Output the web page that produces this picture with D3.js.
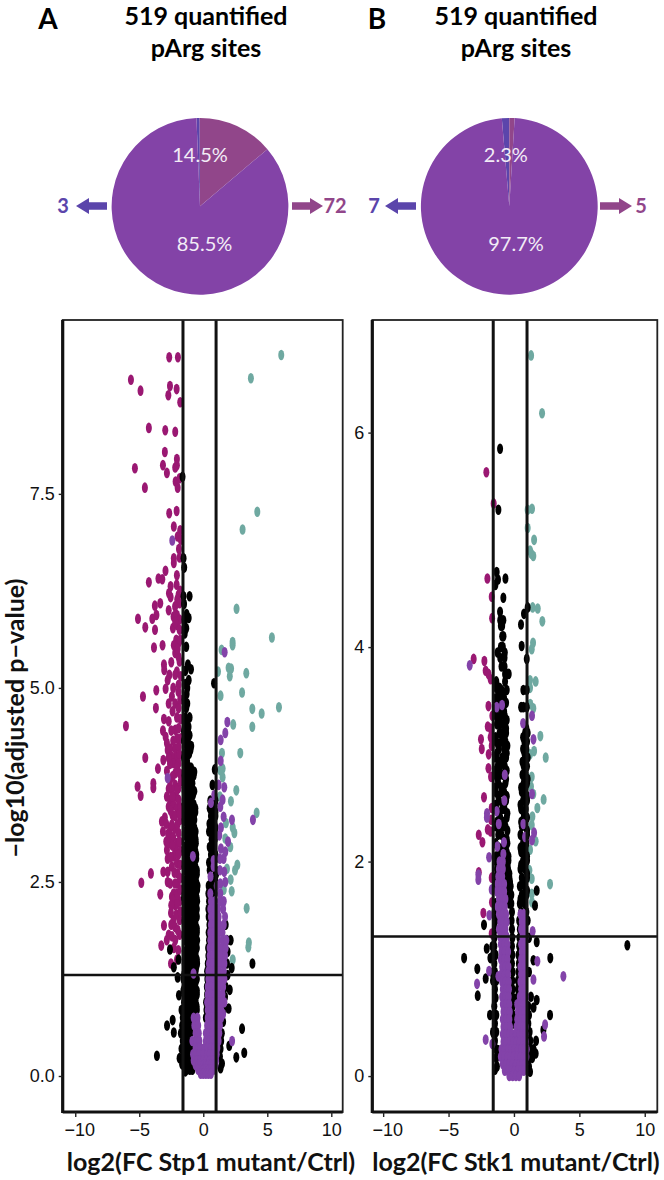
<!DOCTYPE html>
<html><head><meta charset="utf-8">
<script src="https://cdn.jsdelivr.net/npm/d3@7/dist/d3.min.js"></script>
<style>html,body{margin:0;padding:0;background:#fff}svg{display:block}</style>
</head><body><div id="c"></div>
<script>
// ---------- Pie data ----------
const totalSites = 519;
const pieLabelsA = ["3","72"];
const pieCountsA = [3,72,444];
const piePctA = ["14.5%","85.5%"];
const pieCountsB = [7,5,507];
const pieLabelsB = ["7","5"];
const piePctB = ["2.3%","97.7%"];
const xTicks = [-10,-5,0,5,10];
const yTicksA = [0,2.5,5,7.5];
const yTicksB = [0,2,4,6];

// ---------- Panel A points: [log2FC, -log10 p] ----------
const magentaA = [[-2.66,9.26],[-1.98,9.26],[-5.65,8.97],[-4.9,8.83],[-2.6,8.89],[-2.08,8.85],[-2.73,8.77],[-1.8,8.68],[-4.25,8.35],[-2.97,8.32],[-2.19,8.3],[-3,8.04],[-2.06,7.95],[-3.15,7.87],[-2.19,7.84],[-2.06,7.87],[-5.34,7.83],[-2.84,7.77],[-2.16,7.66],[-1.85,7.7],[-2,7.58],[-4.56,7.58],[-2.08,7.28],[-2.66,7.25],[-2.3,7.08],[-1.8,7.03],[-2,6.95],[-1.75,6.91],[-1.9,6.79],[-2.3,6.67],[-2.3,6.61],[-1.85,6.68],[-2.95,6.51],[-3.5,6.41],[-3.2,6.4],[-4.25,6.36],[-2.06,6.45],[-2.08,6.33],[-2.55,6.31],[-2.68,6.22],[-2.55,6.17],[-1.93,6.2],[-2.03,6.14],[-3.36,6.09],[-3.78,6.06],[-1.85,6.09],[-2.7,6],[-3.66,5.94],[-2.16,5.94],
[-5.1,5.89],[-4.53,5.78],[-3.98,5.89],[-3.77,5.75],[-2.32,5.92],[-2.06,5.94],[-1.85,5.88],[-2.37,5.77],[-2.06,5.81],[-1.85,5.75],[-2.19,5.85],[-2.11,5.62],[-1.93,5.58],[-3.85,5.52],[-3.18,5.55],[-2.19,5.45],[-1.93,5.4],[-2.5,5.33],[-3.07,5.3],[-3.05,5.23],[-1.85,5.34],[-2.06,5.21],[-2.19,5.17],[-2.65,5.17],[-2.78,5.1],[-3.67,4.97],[-4.71,4.89],[-2.94,4.99],[-1.93,5.04],[-1.94,4.95],[-2.45,4.89],[-2.7,4.8],[-2.19,4.8],[-1.93,4.74],[-3.7,4.74],[-1.8,4.85],[-3.07,4.6],[-2.7,4.57],[-6.04,4.51],[-3.15,4.45],[-2.19,4.46],[-1.93,4.48],[-2.94,4.37],[-2.84,4.29],[-2.58,4.22],[-2.19,4.22],[-1.93,4.24],[-2.78,4.2],[-2.19,4.11],[-1.85,4.14],[-2.5,4.12],[-2.32,4.03],[-1.93,4.03],[-2.6,4.02],[-4.53,4.1],[-3.12,4.07],[-3.54,3.96],[-2.84,3.93],[-2.19,3.9],[-1.85,3.9],[-5.13,3.73],[-4.89,3.61],[-3.9,3.77],[-3.9,3.71],[-2.19,3.75],[-2.45,3.69],[-1.93,3.71],[-2.84,3.6],[-2.58,3.56],[-2.19,3.6],[-1.93,3.56],[-2.7,3.47],[-2.32,3.49],[-2.06,3.45],[-2.4,3.36],[-3,3.33],[-3.23,3.28],[-3.15,3.15],[-2.58,3.19],[-2.19,3.19],[-1.93,3.13],[-2.58,3.1],[-2.89,3.02],[-2.06,3],[-2.84,2.91],[-2.19,2.91],[-2.78,2.8],[-2.32,2.83],[-2.06,2.74],[-3.12,2.63],[-2.78,2.63],[-4.09,2.61],[-4.84,2.49],[-2.78,2.5],[-2.58,2.48],[-2,2.61],[-2,2.48],[-1.8,2.9],[-1.8,2.55],[-1.8,3.3],[-3.36,2.34],[-2.32,2.35],[-2.45,2.31],[-2.06,2.35],[-1.85,2.25],[-2.19,2.2],[-2.32,2.27],[-2.06,2.22],[-2.52,2.1],[-2.32,2.01],[-1.85,2.01],[-3.07,1.94],[-2.7,1.82],[-2.45,1.8],[-2.19,1.75],[-1.85,1.82],[-3.28,1.68],[-2.52,1.45],
[-1.8,6.25],[-2.2,6.05],[-1.8,5.62],[-2.3,5.55],[-2.0,5.5],[-1.75,5.15],[-2.35,5.0],[-1.78,4.6],[-2.05,4.62],[-2.4,4.7],[-2.5,4.45],[-1.75,4.35],[-2.05,4.35],[-2.35,4.32],[-2.7,4.1],[-2.05,3.98],[-2.4,3.86],[-2.6,3.8],[-1.75,3.8],[-2.7,3.7],[-2.05,3.68],[-2.4,3.6],[-1.78,3.46],[-2.55,3.42],[-2.2,3.35],[-1.85,3.38],[-2.9,3.25],[-2.45,3.24],[-2.02,3.24],[-2.75,3.12],[-2.35,3.08],[-2.7,3.0],[-2.42,2.97],[-1.85,3.02],[-2.55,2.82],[-1.95,2.85],[-2.45,2.7],[-2.25,2.62],[-1.8,2.72],[-2.2,2.48],[-2.0,2.34],[-1.78,2.4],[-2.5,2.2],[-2.1,2.08],[-1.8,2.12],[-2.5,1.95],[-2.2,1.92],[-2.0,1.88],[-2.85,1.75],[-2.3,1.65],[-1.95,1.62],[-2.05,1.5]];
const tealA = [[6.09,9.29],[3.72,8.99],[4.22,7.27],[3.07,7.04],[2.6,6.02],[5.36,5.65],[2.29,5.59],[2.29,5.55],[1.43,5.49],[1.15,5.21],[1.98,5.26],[2.17,5.25],[2.07,5.15],[3.36,5.19],[3.03,4.94],[1.35,4.9],[3.83,4.73],[4.56,4.67],[5.91,4.75],[2.34,4.53],[3.83,4.5],[1.46,4.16],[2.89,4.16],[1.51,3.96],[1.33,3.94],[1.51,3.85],[2.58,3.68],[2.16,3.54],[4.17,3.39],[1.77,3.26],[2.3,3.2],[2.43,3.13],[1.72,3.06],[2.11,2.95],[2.66,2.72],[2.48,2.65],[1.85,2.67],[2.14,2.53],[2.22,2.38],[3.39,2.16],[3.56,1.72],[3.52,1.66],[2.3,1.5],[1.3,3.6],[1.6,2.4]];
const purpleSparseA = [[-2.42,6.9],[-2.78,3.84],[1.67,5.46],[1.88,4.56],[1.72,4.42],[1.36,4.33],[1.36,4.06],[1.64,3.72],[1.2,3.75],[.86,3.62],[1.51,3.56],[.6,3.52],[1.33,3.47],[1.59,3.34],[2.24,3.3],[3.88,3.3],[1.38,3.2],[1.93,3.02],[1.38,2.93],[1.72,2.89],[1.59,2.8],[-.81,2.83],[.81,2.78],[.81,2.7],[.57,2.57],[1.64,2.63],[1.33,2.48],[1.72,2.5],[.55,2.35],[1.33,2.35],[-.76,1.32],[2.25,.45],[1.65,.95],[1.55,.8],[1.3,2.65],[1.25,3.1],[1.3,2.8],[1.05,2.45]];
const blackSparseA = [[-1.62,7.72],[-1.54,6.67],[-1.49,6.55],[-1.07,6.18],[-1.54,6.18],[-1.5,6.08],[-1.3,5.95],[-1.14,5.9],[-1.45,5.88],[-1.33,5.77],[-1.33,5.53],[-.96,5.24],[-1.4,5.22],[-1.14,5.1],[-1.4,5.05],[.84,5.06],[.9,3.95],[.72,3.75],[2.14,1.75],[3.84,1.45],[2.22,1.39],[2.07,1.11],[1.7,1.02],[1.98,.87],[3.03,.61],[2.03,.39],[3.2,.3],[2.58,.24],[-3.62,.26],[-2.83,.65],[-2.39,.72],[-2.3,.56],[-2.6,1.63],[-1.93,1.5],[-2.3,1.4],[-2,1.27],[-1.9,1.04],[-1.7,.85],[-1.85,.23],[-1.4,.06],[1.46,.16],[1.35,.1]];
const blackRowsA = [
[5.7,-1.45],[5.3,-1.2],[5,-1.25],[4.92,-1.3],[4.85,-1.45],[4.8,-1.25],[4.74,-1.33],[4.62,-1.07,-1.4],[4.56,-1.25],[4.5,-1.38,-1.15],[4.44,-1.2,-1.5],[4.39,-1.07,-1.35],[4.32,-1.2,-1.5],[4.25,-.94,-1.3],[4.2,-1.25,-1],[4.15,-1.4,-1.1],[4.1,-1.5],[4.06,-1.27,-1.45],[4,-1.2,-1.45],[3.97,-1.3,-.95],[3.92,-.7,-1.1,-1.35],[3.87,-1.45,-1.1,-.75],[3.82,-1.3,-.9],[3.77,-1.3,-.85,-1.05],[3.72,-1.15,-.95,-1.45],[3.67,-1.45,-.95,-.7],[3.62,-.8,-1.3,-1.05],[3.55,-1.05,-1.4],[3.5,-1.2,-.75,-1.45],[3.45,-.62,-1.3,-.9,-1.1],[3.4,-1,-.62,-1.25],[3.35,-.75,-1.1,-1.4],[3.3,-1.45,-.95,-.7],[3.25,-.85,-1.3,-1.05],[3.2,-1.2,-.7],[3.15,-.6,-1,-1.4,-.8],[3.1,-1.45,-1,-.68],[3.05,-.8,-1.2,-.6],[3,-1.25,-.88,-.58],[2.95,-.7,-1.05,-1.45,-.9],[2.9,-1.45,-1.1,-.62],[2.85,-.55,-.95,-1.3,-.75],[2.8,-1.3,-.85,-.55],[2.75,-.75,-1.15,-1.4],[2.7,-1.45,-1,-.62],[2.65,-.5,-.9,-1.4,-.7,-1.15],[2.6,-1.2,-.75,-.5],[2.55,-.65,-1.05,-1.3,-.85],[2.5,-1.45,-1,-.55],[2.45,-.45,-.8,-1.2,-1.45,-.62],[2.4,-1.3,-.95,-.7,-.48],[2.35,-.6,-1,-1.45,-.8,-1.25],[2.3,-1.5,-1.1,-.75,-.52],[2.25,-.48,-.85,-1.25,-.68,-1.05],[2.2,-1.4,-.95,-.6],[2.15,-.7,-1.05,-1.4,-.5,-.88],[2.1,-1.25,-.8,-.55],[2.05,-.5,-.9,-1.3,-.7,-1.1],[2,-1.45,-1.05,-.62],[1.95,-.6,-1,-1.45,-.8,-1.22],[1.9,-1.35,-.9,-.5],[1.85,-.5,-.85,-1.2,-.68,-1.05],[1.8,-1.45,-1,-.58],[1.75,-.65,-1.05,-1.4,-.85,-.48],[1.7,-1.25,-.78,-.55],[1.65,-.5,-.9,-1.25,-.7,-1.08],[1.6,-1.45,-1,-.6],[1.55,-.6,-.95,-1.35,-.78,-1.15],[1.5,-1.22,-.85,-.5],[1.45,-.48,-.85,-1.2,-.66,-1.02,-1.45],[1.4,-1.3,-.95,-.55],[1.35,-.6,-1,-1.4,-.8,-1.2],[1.3,-1.5,-1.1,-.7],[1.25,-.5,-.9,-1.3,-.7,-1.1,-1.55],[1.2,-1.4,-1,-.6],[1.15,-.65,-1.05,-1.45,-.85,-1.25],[1.1,-1.55,-1.15,-.75,-.5],[1.05,-.5,-.95,-1.35,-.72,-1.15],[1,-1.45,-1.05,-.6],[.95,-.6,-1.05,-1.5,-.82,-1.28],[.9,-1.4,-.95,-.52],[.85,-.5,-.9,-1.3,-.7,-1.1],[.8,-1.5,-1.05,-.62],[.75,-.95,-1.4,-1.2,-1.6],[.7,-1.3,-1,-.7,-.5],[.65,-.9,-1.15,-1.45,-1.65],[.6,-1.35,-1.05],[.55,-1,-1.25,-1.5,-1.75],[.5,-1.4,-1.1],[.45,-.95,-1.2,-1.4,-1.6],[.4,-1.3,-1.05],[.35,-.9,-1.15,-1.45,-1.7],[.3,-1.35,-1.1],[.25,-1,-1.25,-1.55],[.2,-1.4,-1.15],[.15,-.95,-1.15,-1.4,-1.65],[.08,-.85,-1.05,-1.3],
[3.55,.55,.95],[3.5,.72],[3.45,.5,.8],[3.4,.65,.95],[3.35,.6,.95],[3.25,.75,.48],[3.2,.95],[3.15,.45,.9,.65],[3.05,.65,.9],[2.95,.8,.5],[2.85,.6,.95],[2.9,.8],[2.8,.95],[2.75,.45,.75],[2.65,.5,.95],[2.7,.7],[2.55,.85,.6],[2.6,1],[2.45,.42,.7],[2.5,.95],[2.35,.4,.9],[2.4,.7],[2.3,.55],[2.25,.45],[2.15,.4],[2.05,.42],[1.95,.48],[1.85,.42],[1.75,.45],[1.65,.38],[1.55,.4],[1.45,.35],[1.35,.3],[1.25,.32],[1.15,.28],[1.05,.3],[.95,.22],[.85,.25],[.75,.2],
[1.95,1.75],[1.75,1.85],[1.6,1.9],[1.45,1.85],[1.3,1.9],[1.15,1.75],[.85,1.6],[.7,1.55],[.55,1.45],[.45,1.4],[.35,1.35],[.25,1.3]];
const purpleRowsA = [
[2.25,.6,.9,1.3,1.6],[2.15,.55,.85,1.15,1.55],[2.05,.6,.9,1.2,1.7],[1.95,.6,.9,1.25,1.6],[1.85,.55,.85,1.2,1.5],[1.75,.55,.85,1.15,1.5,1.8],[1.65,.5,.8,1.15,1.45,1.75],[1.55,.5,.8,1.1,1.4,1.7],[1.45,.45,.75,1.05,1.35,1.65],[1.35,.4,.65,.95,1.25,1.6],[1.25,.4,.7,1,1.3,1.65],[1.15,.35,.6,.9,1.2,1.55],[1.05,.35,.6,.9,1.2,1.5],[.95,.3,.55,.85,1.15,1.45],[.85,.35,.6,.9,1.2,1.4],[.75,-.75,-.45,.35,.6,.85,1.15,1.4],[.65,-.7,-.4,.3,.5,.75,1.05,1.3],[.55,-.6,-.35,.2,.45,.7,1,1.25],[.45,-.85,-.55,-.3,.2,.45,.7,1,1.2],[.36,-.6,-.4,-.2,.1,.35,.6,.85,1.1],[.28,-.8,-.6,-.3,0,.3,.5,.8,1.05],[.2,-.75,-.5,-.25,0,.25,.5,.75,1],[.14,-.6,-.4,-.2,0,.2,.4,.6,.8,.95],[.08,-.4,-.2,0,.2,.4,.6,.8],[.03,-.2,0,.2,.4,.6]];

// ---------- Panel B points ----------
const magentaB = [[-2.11,5.63],[-1.55,5.34],[-2.03,4.64],[-1.7,4.47],[-1.67,4.27],[-3.08,3.89],[-2.26,3.87],[-2.16,3.78],[-1.95,3.75],[-1.78,3.7],[-1.95,3.45],[-1.65,3.36],[-2,3.26],[-1.78,3.24],[-1.78,3.16],[-2.52,3.14],[-2.46,3.05],[-1.7,3.08],[-1.93,3],[-1.95,2.87],[-1.75,2.79],[-2.29,2.6],[-1.7,2.5],[-1.75,2.39],[-2,2.3],[-1.78,2.28],[-2.69,2.25],[-2.41,2.18],[-2.69,1.9],[-1.7,1.85],[-2.34,1.52],[-1.7,1.33],[-1.68,1.62]];
const tealB = [[1.31,6.72],[2.15,6.18],[1.38,5.29],[1.05,5.28],[1.05,5.11],[1.54,5],[1.23,4.9],[1.48,4.85],[1.33,4.87],[1.43,4.37],[1.82,4.36],[2.17,4.24],[1.46,4.04],[1.36,3.98],[1.66,3.68],[1.23,3.69],[1.23,3.62],[1.48,3.43],[1.25,3.47],[2.02,3.17],[1.54,3.03],[2.43,2.97],[1.23,3],[1.36,2.79],[1.48,2.63],[1.3,2.7],[2.27,2.58],[1.79,2.5],[1.41,2.42],[1.36,2.34],[1.66,2.19],[1.23,2.11],[1.18,1.92],[1.36,1.84],[2.76,1.79],[1.36,1.7],[1.38,1.62]];
const blackSparseB = [[-1.06,5.85],[-1.19,5.28],[-1.32,4.7],[-1.22,4.63],[-1.42,4.58],[-.65,4.64],[-.81,4.46],[-1.06,4.33],[.77,4.31],[1.05,4.37],[.54,4.21],[.59,4.01],[.98,3.89],[1.74,1.73],[1.61,1.59],[-2.29,1.41],[-2.08,1.19],[-3.81,1.1],[-2.8,1],[-2.16,.91],[-2.77,.75],[-1.83,.57],[1.74,1.25],[2.78,1.1],[8.67,1.22],[1.49,1.08],[1.74,.71],[1.3,.74],[1.5,.64],[2.76,.57],[2.25,.43],[1.69,.33],[1.66,.21],[1.35,.21],[1.23,.04],[-1.45,.06],[-1.19,.24],[-1.57,.4],[1.5,.25],[-1.8,1.1],[-1.6,.95]];
const blackRowsB = [
[4.25,-.94,-.81,-1.05],[4.2,-.9,-1],[4.1,-.8,-.9],[4,-1,-.85],[3.95,-1.25,-.7],[3.9,-1.05,-.72],[3.82,-.72,-.95],[3.75,-.55,-.68,-.4],[3.68,-.68,-1.35],[3.62,-1.35,-1.1],[3.6,-.95,-.55,.72,.98],[3.56,-1.2,-.8],[3.52,-1.4,-1.1,-.75],[3.48,-1,-.6],[3.44,-1.2,-.9,.72,.98,.55],[3.4,-1.4,-.75],[3.36,-1,-.7,-1.35],[3.32,-1.2,-.55],[3.28,-1.3,-.8,-1.05],[3.24,-.6,.95],[3.2,-1.1,-.6,.85,1.05,-.85],[3.16,-1.4,-.75,.7],[3.12,-1.35,-.95,-.65,.8,1],[3.08,-1.2,-.5,.9],[3.05,-1.15,-.75,.7,.95],[3.01,-1.3,-.55,.8],[2.97,-1.4,-.9,-.6,.85,1.05],[2.93,-1.15,-.8,.65],[2.89,-1.25,-.7,-1.05,.75,1],[2.85,-1.4,-.55,.88],[2.81,-1.4,-1.1,-.85,.65,.9],[2.77,-1.25,-.6,.8,1.05],[2.73,-1.2,-.65,.75,1],[2.69,-1.4,-.95,.55],[2.65,-1.4,-.95,-.75,.6,.85],[2.61,-1.2,-.55,1],[2.57,-1.15,-.6,.7,1],[2.53,-1.4,-.85,.5],[2.49,-1.35,-.9,-.72,.55,.9],[2.45,-1.15,-.5,.75],[2.41,-1.05,-.55,.75,1],[2.37,-1.3,-.85,.55],[2.33,-1.4,-.85,-.65,.6,.85],[2.29,-1.1,-.5,1],[2.25,-1.2,-.95,.5,1],[2.21,-.75,-.55,.72],[2.17,-1.4,-.65,-.5,.7,.95],[2.13,-1.15,-.85,.5],[2.09,-1.1,-.55,.55,.85],[2.05,-1.35,-.68,-.42,1],[2.01,-1.4,-.6,-.42,.7,1],[1.97,-1.15,-.5,.55],[1.93,-1.3,-.45,.5,.85],[1.89,-.62,-.35,1],[1.85,-1.45,-.55,-.35,.6,1],[1.81,-.45,-.3,.8],[1.77,-1.42,-.5,-.25,.45,.8],[1.73,-.6,-.35,1],[1.69,-.45,-.2,.6,.95],[1.65,-.35,.5,.78],[1.61,-1.42,-.2,-.35,.45,.8],[1.53,-1.48,-.15,.55,.95],[1.45,-1.42,-.18,.4,1.05],[1.37,-1.45,-.15,.45],[1.29,-1.5,-.12,.42,1.15],[1.21,-1.5,-1.65,-.15,.4],[1.13,-1.4,-1.6,-.12,.35],[1.05,-1.5,-.15,.38],[.97,-1.45,-1.55,-.1,.35,1.15],[.89,-1.35,-1.6,-.12,.3],[.81,-1.45,-.1,.3],[.73,-1.4,-.08,.25],[.65,-1.5,-.1,1.1],[.57,-1.55,-1.35,-.08,1.15],[.49,-1.45,-.06,1.1],[.41,-1.6,-1.35,1.2],[.33,-1.45,1.25],[.25,-1.35,1.3],[.17,-1.35,1.2,1.4],[.09,-1.3,1.15]];
const purpleSparseB = [[-3.38,3.83],[-.91,3.46],[-1.32,3.44],[1.38,3.36],[.7,3.29],[1.49,3.14],[-.7,2.81],[1.38,2.63],[-.73,2.57],[-2.06,2.45],[-2.07,2.41],[-1.32,2.47],[-1.16,2.35],[.72,2.35],[.85,2.23],[1.54,2.27],[1.38,2.2],[-1.27,2.14],[-.76,2.18],[-.81,2.07],[-1.9,2.04],[-2.72,1.83],[-1.7,1.74],[3.78,.93],[1.79,1.07],[1.49,.9],[-1.9,.98],[-2.82,.86],[-1.88,1.5],[-1.19,.93],[2.38,.48],[2.3,.37],[-2.16,.34],[-1.65,.3],[1.43,1.35],[-2.72,1.88]];
const purpleRowsB = [
[2,-.85,-1.1],[1.93,-1.15,-.85],[1.86,-1.2,-.9],[1.79,-1.25,-.95,-.75],[1.72,-1.3,-1,-.75],[1.65,-1.15,-.85,-.65],[1.58,-1.25,-.95,-.7],[1.51,-1.15,-.85,-.6,.5,.75],[1.44,-1.05,-.8,-.55,.6,.85],[1.37,-1.15,-.9,-.65,.55,.8],[1.3,-1.05,-.8,-.55,.65,.9],[1.23,-1,-.75,-.5,.55,.8],[1.16,-.95,-.7,-.45,.6,.85],[1.09,-1,-.75,-.5,.55,.8],[1.02,-.9,-.65,-.42,.5,.78],[.95,-.95,-.7,-.45,.55,.85],[.88,-.9,-.65,-.4,.5,.75],[.81,-.85,-.6,-.38,.55,.8],[.74,-.9,-.65,-.4,.45,.7,.92],[.67,-.85,-.6,-.36,.25,.5,.75],[.6,-.8,-.55,-.32,.3,.55,.8],[.53,-.85,-.6,-.35,.25,.5,.78],[.46,-.8,-.55,-.3,.2,.45,.7,.9],[.39,-.85,-.6,-.35,-.1,.15,.4,.65,.88],[.32,-.8,-.55,-.3,-.05,.2,.45,.7,.92],[.25,-.95,-.7,-.45,-.2,.05,.3,.55,.8,.98],[.18,-1,-.75,-.5,-.25,0,.25,.5,.75,.95],[.11,-.85,-.6,-.35,-.1,.15,.4,.65,.85],[.05,-.7,-.45,-.2,.05,.3,.55,.75],[.0,-.35,-.1,.15,.4]];

// ---------- Helpers ----------
const flat = rows => rows.flatMap(r => r.slice(1).map(x => [x, r[0]]));
const W = 664, H = 1180;
const svg = d3.select("#c").append("svg").attr("width",W).attr("height",H);
const c = {main:"#8343A7", up:"#91468A", down:"#5B45AB", mag:"#9A1872", teal:"#6FA9A1", pur:"#8343A9"};
const cal = "Lato, 'Open Sans', sans-serif";
const hel = "'Liberation Sans', Arial, sans-serif";

function pie(cfg){
  const g = svg.append("g").attr("transform",`translate(${cfg.cx},206.3)`);
  const start = cfg.start;
  const arcs = d3.pie().sort(null).startAngle(start).endAngle(start+2*Math.PI)(cfg.counts);
  g.selectAll("path").data(arcs).join("path")
    .attr("d",d3.arc().innerRadius(0).outerRadius(88.4))
    .attr("fill",(d,i)=>cfg.colors[i]);
  g.selectAll("text").data(cfg.pct).join("text")
    .attr("x",(d,i)=>cfg.px[i]).attr("y",(d,i)=>i?45:-44.5)
    .attr("text-anchor","middle").attr("fill","#f2ecf6")
    .style("font",`400 20px ${cal}`).text(d=>d);
}
function arrow(x0,x1,color){ // x0 tail, x1 tip
  const s = Math.sign(x1-x0), hx = x1 - s*13;
  const y=206;
  svg.append("path").attr("fill",color)
   .attr("d",`M${x0},${y-3.8}L${hx},${y-3.8}L${hx},${y-8}L${x1},${y}L${hx},${y+8}L${hx},${y+3.8}L${x0},${y+3.8}Z`);
}
function num(x,t,color,anchor){
  svg.append("text").attr("x",x).attr("y",213).attr("fill",color).attr("text-anchor",anchor||"middle")
    .style("font",`700 20px ${cal}`).text(t);
}
function title(cx,letter,lx){
  svg.append("text").attr("x",lx).attr("y",29).style("font",`700 28px ${cal}`).attr("text-anchor","middle").text(letter);
  svg.append("text").attr("x",cx).attr("y",24.5).attr("text-anchor","middle").style("font",`700 25px ${cal}`).text("519 quantified");
  svg.append("text").attr("x",cx).attr("y",56.5).attr("text-anchor","middle").style("font",`700 25px ${cal}`).text("pArg sites");
}

function volcano(cfg){
  const x = d3.scaleLinear().domain(cfg.xd).range([cfg.l,cfg.r]);
  const y = d3.scaleLinear().domain(cfg.yd).range([1112,320]);
  const clipId = "clip"+cfg.id;
  svg.append("clipPath").attr("id",clipId).append("rect")
    .attr("x",cfg.l).attr("y",320).attr("width",cfg.r-cfg.l).attr("height",792);
  const g = svg.append("g").attr("clip-path",`url(#${clipId})`);
  const layer=(pts,col)=>g.append("g").selectAll("ellipse").data(pts).join("ellipse")
    .attr("cx",d=>x(d[0])).attr("cy",d=>y(d[1])).attr("rx",3).attr("ry",5.3).attr("fill",col);
  layer(cfg.mag,c.mag); layer(cfg.teal,c.teal); layer(cfg.black,"#000"); layer(cfg.pur,c.pur);
  // thresholds
  const lines = svg.append("g").attr("stroke","#111");
  [-1.585,1].forEach(v=>lines.append("line").attr("x1",x(v)).attr("x2",x(v)).attr("y1",320).attr("y2",1112).attr("stroke-width",3));
  lines.append("line").attr("x1",cfg.l).attr("x2",cfg.r).attr("y1",y(1.301)).attr("y2",y(1.301)).attr("stroke-width",2.6);
  // frame
  svg.append("rect").attr("x",cfg.l).attr("y",320).attr("width",cfg.r-cfg.l).attr("height",792)
    .attr("fill","none").attr("stroke","#222").attr("stroke-width",1.8);
  svg.append("line").attr("x1",cfg.l).attr("x2",cfg.l).attr("y1",320).attr("y2",1113).attr("stroke","#111").attr("stroke-width",3.2);
  svg.append("line").attr("x1",cfg.l).attr("x2",cfg.r).attr("y1",1112).attr("y2",1112).attr("stroke","#111").attr("stroke-width",3.2);
  // axes
  const ax = svg.append("g").attr("transform","translate(0,1112)").call(d3.axisBottom(x).tickValues(xTicks).tickSize(5).tickPadding(6).tickFormat(d=>d<0?"\u2212"+(-d):d));
  const ay = svg.append("g").attr("transform",`translate(${cfg.l},0)`).call(d3.axisLeft(y).tickValues(cfg.yt).tickSize(4).tickPadding(4).tickFormat(cfg.yf));
  [ax,ay].forEach(a=>{a.select(".domain").remove();a.selectAll("line").attr("stroke","#222").attr("stroke-width",1.4);
    a.selectAll("text").attr("fill","#111").style("font",`400 18px ${hel}`);});
  ax.selectAll("text").filter(d=>d===-10).attr("dx",4);
  svg.append("text").attr("x",cfg.tx).attr("y",1171).attr("text-anchor","middle")
    .style("font",`700 25px ${cal}`).attr("fill","#111").text(cfg.title);
}

// ---------- Draw ----------
title(206,"A",48); title(516,"B",377);
pie({cx:200,start:-3/519*2*Math.PI-0.004,counts:pieCountsA,colors:[c.down,c.up,c.main],pct:piePctA,px:[0,4.5]});
pie({cx:509.3,start:-7/519*2*Math.PI,counts:pieCountsB,colors:[c.down,c.up,c.main],pct:piePctB,px:[-3.5,6.7]});
arrow(107,76,c.down); arrow(292,323,c.up); num(63,pieLabelsA[0],c.down); num(335,pieLabelsA[1],c.up);
arrow(416,385,c.down); arrow(600,632,c.up); num(374,pieLabelsB[0],c.down); num(641,pieLabelsB[1],c.up);

volcano({id:"A",l:62.7,r:342.7,xd:[-10.98,10.89],yd:[-.464,9.74],yt:yTicksA,yf:d3.format(".1f"),
  mag:magentaA,teal:tealA,black:blackSparseA.concat(flat(blackRowsA)),pur:purpleSparseA.concat(flat(purpleRowsA)),
  title:"log2(FC Stp1 mutant/Ctrl)",tx:211});
volcano({id:"B",l:372.3,r:657.3,xd:[-10.83,10.96],yd:[-.335,7.05],yt:yTicksB,yf:d3.format("d"),
  mag:magentaB,teal:tealB,black:blackSparseB.concat(flat(blackRowsB)),pur:purpleSparseB.concat(flat(purpleRowsB)),
  title:"log2(FC Stk1 mutant/Ctrl)",tx:516});

svg.append("text").attr("transform","translate(24,718) rotate(-90)").attr("text-anchor","middle")
  .style("font",`700 25px ${cal}`).attr("fill","#111").text("\u2212log10(adjusted p\u2212value)");
</script></body></html>
